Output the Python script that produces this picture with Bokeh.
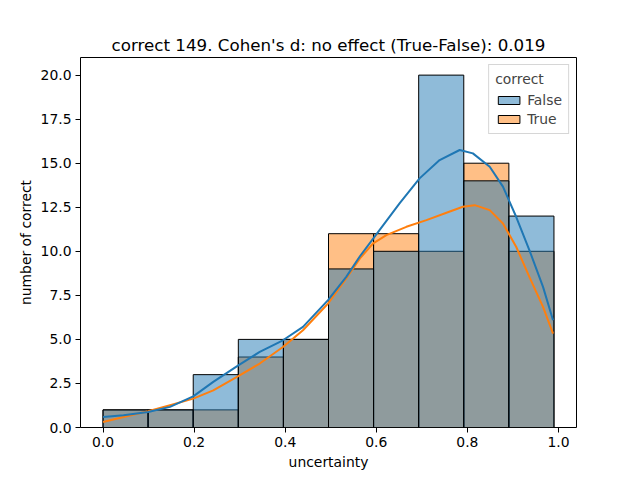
import numpy as np
from bokeh.plotting import figure
from bokeh.models import Range1d, FixedTicker, Legend, LegendItem, CustomJSTickFormatter
from bokeh.embed import file_html
from bokeh.resources import INLINE

# ---- data ----
hue_levels = ["False", "True"]
bin_min = 0.0
bin_max = 0.99
n_bins = 10
counts_false = [1, 1, 3, 5, 5, 9, 10, 20, 14, 12]
counts_true = [1, 1, 1, 4, 5, 11, 11, 10, 15, 10]

kde_false_x = [0.0, 0.045, 0.099, 0.147, 0.198, 0.242, 0.297, 0.344, 0.395, 0.439,
               0.494, 0.534, 0.564, 0.607, 0.651, 0.695, 0.739, 0.783, 0.812, 0.849,
               0.878, 0.907, 0.936, 0.966, 0.988]
kde_false_y = [0.6, 0.69, 0.88, 1.17, 1.77, 2.59, 3.53, 4.29, 4.95, 5.71,
               7.23, 8.55, 9.72, 11.2, 12.72, 14.14, 15.18, 15.75, 15.56, 14.8,
               13.67, 11.96, 10.07, 7.98, 6.09]
kde_true_x = [0.0, 0.045, 0.099, 0.147, 0.198, 0.242, 0.297, 0.344, 0.395, 0.439,
              0.494, 0.534, 0.564, 0.593, 0.622, 0.666, 0.71, 0.754, 0.79, 0.816,
              0.849, 0.878, 0.907, 0.936, 0.966, 0.988]
kde_true_y = [0.31, 0.6, 0.92, 1.26, 1.64, 2.11, 2.91, 3.63, 4.57, 5.52,
              7.04, 8.46, 9.6, 10.45, 10.92, 11.39, 11.77, 12.19, 12.53, 12.62,
              12.34, 11.58, 10.26, 8.55, 6.85, 5.33]

x_ticks = [0.0, 0.2, 0.4, 0.6, 0.8, 1.0]
y_ticks = [0.0, 2.5, 5.0, 7.5, 10.0, 12.5, 15.0, 17.5, 20.0]

title_text = "correct 149. Cohen's d: no effect (True-False): 0.019"

BLUE = "#1f77b4"
ORANGE = "#ff7f0e"
FONT = "DejaVu Sans"

edges = np.linspace(bin_min, bin_max, n_bins + 1)
pad = 0.05 * (bin_max - bin_min)

p = figure(output_backend="svg", toolbar_location=None,
           frame_width=496, frame_height=370,
           min_border_left=80, min_border_right=56,
           min_border_top=57, min_border_bottom=44,
           x_range=Range1d(bin_min - pad, bin_max + pad),
           y_range=Range1d(0, 21.0),
           title=title_text)
p.title.align = "center"
p.title.text_font = FONT
p.title.text_font_size = "16.7px"
p.title.text_font_style = "normal"
p.title.text_color = "black"
p.title.standoff = 6

p.xgrid.visible = False
p.ygrid.visible = False
p.outline_line_color = "black"
p.outline_line_alpha = 1.0
p.outline_line_width = 1
p.background_fill_color = "white"
p.border_fill_color = "white"

r_true = p.quad(left=edges[:-1], right=edges[1:], bottom=0, top=counts_true,
                fill_color=ORANGE, fill_alpha=0.5, line_color="black", line_width=1)
r_false = p.quad(left=edges[:-1], right=edges[1:], bottom=0, top=counts_false,
                 fill_color=BLUE, fill_alpha=0.5, line_color="black", line_width=1)

p.line(kde_true_x, kde_true_y, line_color=ORANGE, line_width=2, line_join="round")
p.line(kde_false_x, kde_false_y, line_color=BLUE, line_width=2, line_join="round")

for ax in (p.xaxis, p.yaxis):
    ax.axis_line_color = None
    ax.major_tick_line_color = "black"
    ax.major_tick_out = 5
    ax.major_tick_in = 0
    ax.minor_tick_line_color = None
    ax.major_label_text_font = FONT
    ax.major_label_text_font_size = "13.9px"
    ax.major_label_text_color = "black"
    ax.axis_label_text_font = FONT
    ax.axis_label_text_font_size = "13.9px"
    ax.axis_label_text_font_style = "normal"
    ax.axis_label_text_color = "black"
    ax.major_label_standoff = 4
    ax.axis_label_standoff = 4

p.xaxis.ticker = FixedTicker(ticks=x_ticks)
p.yaxis.ticker = FixedTicker(ticks=y_ticks)
p.xaxis.formatter = CustomJSTickFormatter(code="return tick.toFixed(1);")
p.yaxis.formatter = CustomJSTickFormatter(code="return tick.toFixed(1);")
p.xaxis.axis_label = "uncertainty"
p.yaxis.axis_label = "number of correct"

legend = Legend(items=[LegendItem(label=hue_levels[0], renderers=[r_false]),
                       LegendItem(label=hue_levels[1], renderers=[r_true])],
                location="top_right", title="correct")
legend.title_text_font = FONT
legend.title_text_font_size = "13.9px"
legend.title_text_font_style = "normal"
legend.label_text_font = FONT
legend.label_text_font_size = "13.9px"
legend.glyph_width = 27
legend.glyph_height = 10
legend.label_height = 16
legend.spacing = 3
legend.padding = 6
legend.margin = 7
legend.border_line_color = "#cccccc"
legend.border_line_alpha = 0.8
legend.background_fill_alpha = 0.8
p.add_layout(legend)

open("out.html", "w").write(file_html(p, INLINE))
